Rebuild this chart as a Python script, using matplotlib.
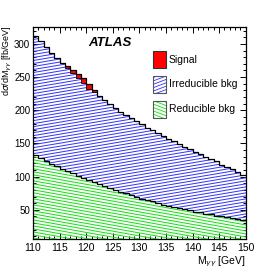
import numpy as np
import matplotlib
matplotlib.use("Agg")
import matplotlib.pyplot as plt
from matplotlib.patches import Rectangle
from matplotlib.ticker import MultipleLocator

plt.rcParams['font.family'] = ['Liberation Sans Narrow', 'Liberation Sans', 'DejaVu Sans']

# 1 GeV bins from 110 to 150
edges = np.arange(110, 151)

# reducible background (fb/GeV), bottom of the stack
reducible = np.array([132, 128, 124, 119, 116, 112, 108, 105, 101, 98,
                      95, 92, 89, 86, 83, 80, 77, 75, 72, 70,
                      67, 65, 63, 60, 58, 56, 54, 52, 51, 49,
                      47, 46, 44, 43, 41, 40, 39, 37, 36, 35])

# total background (irreducible + reducible)
total_bkg = np.array([312, 305, 296, 287, 279, 271, 264, 256, 249, 241,
                      232, 227, 221, 215, 209, 203, 198, 193, 188, 184,
                      179, 174, 170, 165, 161, 157, 153, 149, 145, 141,
                      137, 134, 130, 127, 124, 118, 115, 111, 107, 103])
irreducible = total_bkg - reducible

# signal, on top of the stack
signal = np.zeros(40)
signal[6:13] = [2, 4, 5, 8, 7, 4, 1]

fig = plt.figure(figsize=(2.73, 2.73), dpi=100)
ax = fig.add_axes([0.121, 0.1245, 0.779, 0.7755])
ax.set_xlim(110, 150)
ax.set_ylim(6, 325)


def hatch(ax, clip, slope, spacing, color, lw=0.7, z=2):
    """draw slanted lines in axes coords, clipped to a patch"""
    for c in np.arange(-1.5, 1.5, spacing):
        ln, = ax.plot([0, 1], [c, c + slope], transform=ax.transAxes,
                      color=color, lw=lw, zorder=z)
        ln.set_clip_path(clip)


green = ax.stairs(reducible, edges, baseline=0, fill=True,
                  facecolor='white', edgecolor='none', zorder=1)
blue = ax.stairs(reducible + irreducible, edges, baseline=reducible, fill=True,
                 facecolor='white', edgecolor='none', zorder=1)
hatch(ax, green, -0.18, 0.0142, '#10e010')
hatch(ax, blue, 0.17, 0.0142, '#3030ff')

top = reducible + irreducible
ax.stairs(top + signal, edges, baseline=top, fill=True, facecolor='red',
          edgecolor='black', lw=0.6, zorder=3)
ax.stairs(top + signal, edges, baseline=None, color='black', lw=0.9, zorder=4)
ax.stairs(reducible, edges, baseline=None, color='black', lw=0.9, zorder=4)

ax.xaxis.set_major_locator(MultipleLocator(5))
ax.xaxis.set_minor_locator(MultipleLocator(1))
ax.yaxis.set_major_locator(MultipleLocator(50))
ax.yaxis.set_minor_locator(MultipleLocator(10))
ax.tick_params(which='both', direction='in', top=True, right=True, width=0.7)
ax.tick_params(which='major', length=4.5)
ax.tick_params(which='minor', length=2.2)
ax.tick_params(axis='x', pad=3, labelsize=7.5)
ax.tick_params(axis='y', pad=2, labelsize=7)
for s in ax.spines.values():
    s.set_linewidth(0.9)

ax.set_ylabel(r'd$\sigma$/dM$_{\gamma\gamma}$ [fb/GeV]', fontsize=6.5, loc='top')
ax.yaxis.set_label_coords(-0.091, 1.01)
ax.set_xlabel(r'M$_{\gamma\gamma}$ [GeV]', fontsize=7.5, loc='right', labelpad=1)

ax.text(0.362, 0.926, 'ATLAS', transform=ax.transAxes, fontsize=9.5,
        fontweight='bold', fontstyle='italic', ha='center', va='center')

# legend drawn by hand so the hatching matches
leg_names = ['Signal', 'Irreducible bkg', 'Reducible bkg']
leg_y = [0.806, 0.690, 0.572]
bw, bh = 0.062, 0.082
for name, y in zip(leg_names, leg_y):
    if name == 'Signal':
        ax.add_patch(Rectangle((0.563, y), bw, bh, transform=ax.transAxes,
                               facecolor='red', edgecolor='#333333', lw=0.8, zorder=5))
    else:
        box = Rectangle((0.563, y), bw, bh, transform=ax.transAxes,
                        facecolor='white', edgecolor='none', zorder=5)
        ax.add_patch(box)
        if name.startswith('Irr'):
            hatch(ax, box, 0.38, 0.016, '#3030ff', lw=0.6, z=6)
        else:
            hatch(ax, box, -0.38, 0.016, '#10e010', lw=0.6, z=6)
        ax.add_patch(Rectangle((0.563, y), bw, bh, transform=ax.transAxes,
                               facecolor='none', edgecolor='#555555', lw=0.8, zorder=7))
    ax.text(0.639, y + bh / 2, name, transform=ax.transAxes, fontsize=7.5,
            ha='left', va='center', zorder=8)

fig.savefig('out.png', dpi=100)
